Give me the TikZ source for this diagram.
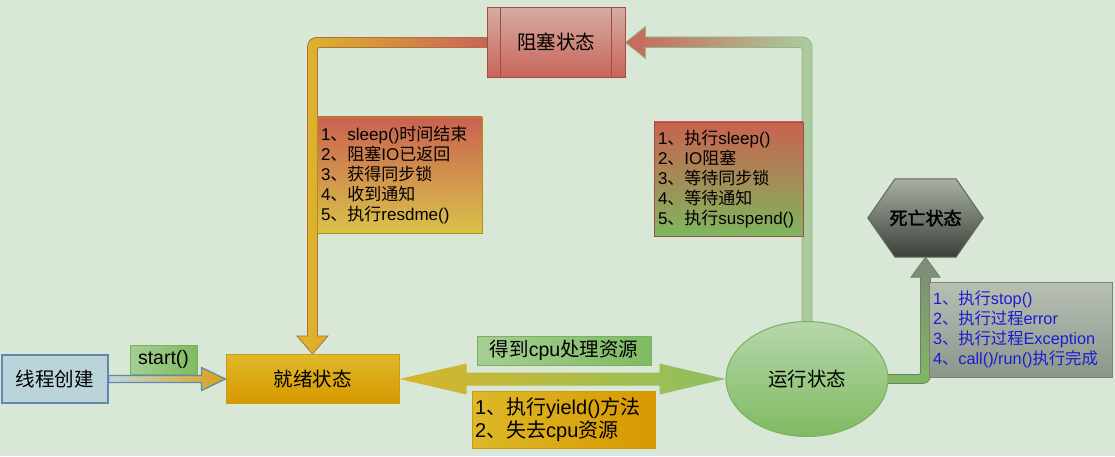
\documentclass[tikz,border=0pt]{standalone}
\usepackage{fontspec}
\setmainfont{Liberation Sans}
\newfontfamily\cjkfont{Noto Sans CJK SC}
\newfontfamily\latinfont{Liberation Sans}
\newfontfamily\cjkheavy[FakeBold=2]{Noto Sans CJK SC}
\usetikzlibrary{calc,shapes.geometric}

% automatic switch between Latin and CJK fonts
\newXeTeXintercharclass\cjkclass
\count255="3000
\loop \XeTeXcharclass\count255=\cjkclass \ifnum\count255<"303F \advance\count255 by 1 \repeat
\count255="4E00
\loop \XeTeXcharclass\count255=\cjkclass \ifnum\count255<"9FFF \advance\count255 by 1 \repeat
\count255="FF00
\loop \XeTeXcharclass\count255=\cjkclass \ifnum\count255<"FFEF \advance\count255 by 1 \repeat
\XeTeXinterchartoks 0 \cjkclass = {\cjkfont}
\XeTeXinterchartoks 4095 \cjkclass = {\cjkfont}
\XeTeXinterchartoks \cjkclass 0 = {\latinfont}
\XeTeXinterchartoks \cjkclass 4095 = {\latinfont}
\XeTeXinterchartokenstate=1

\definecolor{bgc}{RGB}{216,231,214}
\definecolor{createfill}{RGB}{186,212,218}
\definecolor{createdraw}{RGB}{96,136,172}
\definecolor{goldtop}{RGB}{222,184,40}
\definecolor{goldbot}{RGB}{216,152,0}
\definecolor{golddraw}{RGB}{200,156,24}
\definecolor{redtop}{RGB}{214,172,162}
\definecolor{redbot}{RGB}{200,100,90}
\definecolor{reddraw}{RGB}{166,74,64}
\definecolor{labred}{RGB}{201,98,80}
\definecolor{labyel}{RGB}{218,194,74}
\definecolor{labgrn}{RGB}{126,182,94}
\definecolor{grnlight}{RGB}{182,214,170}
\definecolor{grndark}{RGB}{127,187,98}
\definecolor{grndraw}{RGB}{122,176,96}
\definecolor{greytop}{RGB}{168,176,162}
\definecolor{greybot}{RGB}{58,63,56}
\definecolor{greydraw}{RGB}{96,104,94}
\definecolor{dlabtop}{RGB}{184,192,180}
\definecolor{dlabbot}{RGB}{140,150,138}
\definecolor{dlabdraw}{RGB}{120,130,118}
\definecolor{bluetext}{RGB}{28,28,210}

\pgfdeclarelayer{bg}
\pgfdeclarelayer{arrows}
\pgfsetlayers{bg,arrows,main}

\tikzset{
  statefont/.style={font=\fontsize{19.5}{23}\selectfont},
  listfont/.style={font=\fontsize{17}{20}\selectfont},
  createbox/.style={draw=createdraw, fill=createfill, line width=1.5pt, inner sep=0pt, statefont},
  readybox/.style={draw=golddraw, top color=goldtop, bottom color=goldbot, line width=1pt, inner sep=0pt, statefont},
  blockbox/.style={draw=reddraw, top color=redtop, bottom color=redbot, line width=1pt, inner sep=0pt, statefont},
  runbox/.style={ellipse, draw=grndraw, top color=grnlight, bottom color=grndark, line width=1pt, inner sep=0pt, statefont},
  greenlab/.style={draw=grndraw, left color=grnlight!70!grndark, right color=grndark, line width=0.8pt, inner sep=0pt, statefont},
  listbox/.style={line width=0.8pt, inner xsep=4pt, inner ysep=0pt, align=left, listfont},
  fatarrow/.style={line width=0.8pt},
}

\begin{document}
\begin{tikzpicture}[x=1pt,y=1pt]
\begin{pgfonlayer}{bg}
  \fill[bgc] (0,0) rectangle (1115,456);
\end{pgfonlayer}
\useasboundingbox (0,0) rectangle (1115,456);

% ---------- nodes ----------
\node[createbox, minimum width=106pt, minimum height=48pt] (create) at (55,77) {线程创建};
\node[greenlab, minimum width=67pt, minimum height=29pt] (start) at (163.5,96.5) {start()};
\node[readybox, minimum width=173pt, minimum height=49pt] (ready) at (312.5,77) {就绪状态};
\node[blockbox, minimum width=138pt, minimum height=70pt] (block) at (556,413.5) {阻塞状态};
\draw[reddraw, line width=1pt] ($(block.north west)+(14,0)$) -- ($(block.south west)+(14,0)$)
                               ($(block.north east)+(-14,0)$) -- ($(block.south east)+(-14,0)$);
\node[runbox, minimum width=162pt, minimum height=115pt] (run) at (807,77) {运行状态};
\node[greenlab, minimum width=174pt, minimum height=29pt] (cpu) at (564,105.5) {得到cpu处理资源};
\node[draw=golddraw, left color=goldtop, right color=goldbot, line width=0.8pt,
      inner xsep=3pt, inner ysep=0pt, align=left, font=\fontsize{20}{23}\selectfont,
      text width=177pt, minimum height=57pt] (yield) at (563.5,36.5)
      {1、执行yield()方法\\2、失去cpu资源};
\node[listbox, draw=golddraw!90!black, top color=labred, bottom color=labyel,
      text width=157pt, minimum height=116pt] (lab1) at (399.5,281)
      {1、sleep()时间结束\\2、阻塞IO已返回\\3、获得同步锁\\4、收到通知\\5、执行resdme()};
\node[listbox, draw=labred!80!black, top color=labred, bottom color=labgrn,
      text width=141pt, minimum height=114pt] (lab2) at (728.5,277)
      {1、执行sleep()\\2、IO阻塞\\3、等待同步锁\\4、等待通知\\5、执行suspend()};
\node[minimum width=115pt, minimum height=78pt, inner sep=0pt,
      font=\fontsize{18}{22}\selectfont] (dead) at (925.5,238)
      {\XeTeXinterchartokenstate=0 \cjkheavy 死亡状态};
\node[listbox, draw=dlabdraw, top color=dlabtop, bottom color=dlabbot, text=bluetext,
      font=\fontsize{16.3}{20}\selectfont,
      text width=175pt, minimum height=95pt] (dlab) at (1020.5,126.5)
      {1、执行stop()\\2、执行过程error\\3、执行过程Exception\\4、call()/run()执行完成};

% ---------- connectors (drawn below nodes) ----------
\begin{pgfonlayer}{arrows}
  % blocked -> ready (loop on the left)
  \path[fatarrow, draw={rgb,255:red,180;green,110;blue,60}, left color=goldtop, right color=redbot]
    ($(block.west)+(0,5)$)
    -- ($(ready.north |- block.west)+(4,5)$) arc[start angle=90, end angle=180, radius=9pt]
    -- ($(ready.north)+(-5,18)$) -- ($(ready.north)+(-15.5,18)$) -- (ready.north)
    -- ($(ready.north)+(15.5,18)$) -- ($(ready.north)+(5,18)$)
    -- ($(ready.north |- block.west)+(5,-7)$) arc[start angle=180, end angle=90, radius=2pt]
    -- ($(block.west)+(0,-5)$) -- cycle;
  % running -> blocked (right side)
  \path[fatarrow, draw={rgb,255:red,140;green,186;blue,124},
        left color={rgb,255:red,201;green,102;blue,90},
        middle color={rgb,255:red,186;green,172;blue,152},
        right color={rgb,255:red,172;green,204;blue,160}]
    ($(run.north)+(5,-4)$)
    -- ($(run.north |- block.east)+(5,-4.5)$) arc[start angle=0, end angle=90, radius=10pt]
    -- ($(block.east)+(20,5.5)$) -- ($(block.east)+(20,16)$) -- (block.east)
    -- ($(block.east)+(20,-16)$) -- ($(block.east)+(20,-5)$)
    -- ($(run.north |- block.east)+(-7,-5)$) arc[start angle=90, end angle=0, radius=2pt]
    -- ($(run.north)+(-5,-4)$) -- cycle;
  % ready <-> running
  \path[left color={rgb,255:red,216;green,181;blue,42}, right color={rgb,255:red,140;green,192;blue,98}]
    (ready.east) -- ($(ready.east)+(67,15.5)$) -- ($(ready.east)+(67,6.5)$)
    -- ($(run.west)+(-66,6.5)$) -- ($(run.west)+(-66,15.5)$) -- (run.west)
    -- ($(run.west)+(-66,-15.5)$) -- ($(run.west)+(-66,-6.5)$)
    -- ($(ready.east)+(67,-6.5)$) -- ($(ready.east)+(67,-15.5)$) -- cycle;
  % create -> ready
  \path[line width=1.2pt, draw=createdraw, left color={rgb,255:red,192;green,216;blue,222},
        right color={rgb,255:red,222;green,160;blue,20}]
    ($(create.east)+(0,3.5)$) -- ($(ready.west)+(-24,3.5)$) -- ($(ready.west)+(-24,11.5)$)
    -- (ready.west) -- ($(ready.west)+(-24,-11.5)$) -- ($(ready.west)+(-24,-3.5)$)
    -- ($(create.east)+(0,-3.5)$) -- cycle;
  % running -> dead
  \path[fatarrow, draw={rgb,255:red,110;green,126;blue,104},
        top color={rgb,255:red,126;green,138;blue,122}, bottom color={rgb,255:red,128;green,184;blue,96}]
    ($(run.east)+(-6,4.5)$)
    -- ($(dead.south |- run.east)+(-7,4.5)$) arc[start angle=-90, end angle=0, radius=2pt]
    -- ($(dead.south)+(-5,-20)$) -- ($(dead.south)+(-14.5,-20)$) -- (dead.south)
    -- ($(dead.south)+(14.5,-20)$) -- ($(dead.south)+(5,-20)$)
    -- ($(dead.south |- run.east)+(5,3.5)$) arc[start angle=0, end angle=-90, radius=8pt]
    -- ($(run.east)+(-6,-4.5)$) -- cycle;
  % hexagon of the dead state
  \path[draw=greydraw, line width=1pt, top color=greytop, bottom color=greybot]
    (dead.west) -- ($(dead.north)+(-30.5,0)$) -- ($(dead.north)+(30.5,0)$)
    -- (dead.east) -- ($(dead.south)+(30.5,0)$) -- ($(dead.south)+(-30.5,0)$) -- cycle;
\end{pgfonlayer}
\end{tikzpicture}
\end{document}
